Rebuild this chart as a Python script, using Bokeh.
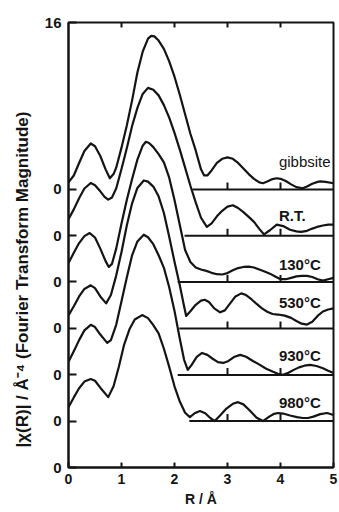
import math
from bokeh.plotting import figure
from bokeh.models import Range1d, LinearAxis, FixedTicker, Label, Title
from bokeh.embed import file_html
from bokeh.resources import INLINE

# ---------------- data ----------------
series_names = ["gibbsite", "R.T.", "130°C", "530°C", "930°C", "980°C"]
offsets = [10.0, 8.33, 6.67, 5.0, 3.33, 1.67]
baseline_start = [2.34, 2.19, 2.06, 2.09, 2.06, 2.28]
baseline_end = 5.0
baseline_ticks = [3, 4]
x_ticks = [0, 1, 2, 3, 4, 5]
y_tick_values = [0, 1.67, 3.33, 5.0, 6.67, 8.33, 10.0, 16]
y_tick_labels = ["0", "0", "0", "0", "0", "0", "0", "16"]
y_max = 16

r_gibbsite = [0, 0.1, 0.2, 0.3, 0.42, 0.5, 0.6, 0.7, 0.78, 0.85, 0.9, 1.0, 1.1, 1.2, 1.3,
              1.4, 1.5, 1.56, 1.62, 1.7, 1.8, 1.9, 2.0, 2.1, 2.2, 2.3, 2.4, 2.5, 2.56, 2.62,
              2.7, 2.8, 2.9, 3.0, 3.1, 3.2, 3.3, 3.4, 3.5, 3.6, 3.67, 3.75, 3.85, 3.93, 4.0,
              4.1, 4.2, 4.3, 4.42, 4.5, 4.6, 4.7, 4.75, 4.85, 5.0]
m_gibbsite = [0.25, 0.5, 0.95, 1.38, 1.65, 1.55, 1.2, 0.72, 0.4, 0.55, 0.78, 1.5, 2.3, 3.2, 4.2,
              4.95, 5.42, 5.52, 5.5, 5.35, 5.05, 4.6, 4.05, 3.4, 2.7, 2.0, 1.4, 0.72, 0.5, 0.5,
              0.68, 0.95, 1.1, 1.15, 1.1, 0.95, 0.75, 0.55, 0.38, 0.25, 0.22, 0.28, 0.37, 0.4, 0.38,
              0.3, 0.18, 0.08, 0.04, 0.1, 0.2, 0.27, 0.29, 0.27, 0.22]

r_rt = [0, 0.1, 0.2, 0.3, 0.42, 0.5, 0.6, 0.68, 0.75, 0.82, 0.9, 1.0, 1.1, 1.2, 1.3,
        1.4, 1.5, 1.6, 1.7, 1.8, 1.9, 2.0, 2.1, 2.2, 2.3, 2.4, 2.5, 2.61, 2.7, 2.8,
        2.9, 3.0, 3.1, 3.2, 3.3, 3.4, 3.5, 3.6, 3.69, 3.8, 3.93, 4.05, 4.18, 4.3, 4.39,
        4.5, 4.6, 4.69, 4.8, 4.9, 5.0]
m_rt = [0.6, 0.95, 1.35, 1.7, 1.9, 1.82, 1.6, 1.4, 1.3, 1.38, 1.7, 2.4, 3.15, 3.95, 4.6,
        5.1, 5.32, 5.25, 5.05, 4.7, 4.25, 3.7, 3.1, 2.45, 1.8, 1.2, 0.65, 0.32, 0.45, 0.7,
        0.9, 1.05, 1.1, 1.0, 0.85, 0.68, 0.5, 0.25, 0.05, 0.2, 0.4, 0.35, 0.22, 0.16, 0.14,
        0.18, 0.26, 0.32, 0.37, 0.4, 0.4]

r_130 = [0, 0.1, 0.2, 0.3, 0.4, 0.5, 0.6, 0.7, 0.76, 0.82, 0.9, 1.0, 1.1, 1.2, 1.3,
         1.4, 1.46, 1.52, 1.6, 1.7, 1.8, 1.9, 2.0, 2.1, 2.2, 2.3, 2.4, 2.5, 2.6, 2.7,
         2.8, 2.9, 3.0, 3.1, 3.2, 3.3, 3.4, 3.5, 3.6, 3.7, 3.8, 3.9, 4.0, 4.1, 4.2,
         4.3, 4.4, 4.5, 4.6, 4.7, 4.8, 4.9, 5.0]
m_130 = [0.68, 1.05, 1.4, 1.65, 1.76, 1.6, 1.2, 0.75, 0.54, 0.65, 1.2, 2.1, 2.95, 3.7, 4.4,
         4.9, 5.04, 5.0, 4.85, 4.6, 4.3, 3.75, 2.95, 2.05, 1.15, 0.72, 0.52, 0.45, 0.4, 0.33,
         0.28, 0.27, 0.32, 0.42, 0.5, 0.54, 0.55, 0.52, 0.45, 0.38, 0.3, 0.2, 0.1, 0.1, 0.15,
         0.2, 0.22, 0.22, 0.18, 0.1, 0.05, 0.1, 0.15]

r_530 = [0, 0.1, 0.2, 0.3, 0.42, 0.5, 0.6, 0.71, 0.8, 0.9, 1.0, 1.1, 1.2, 1.3, 1.42,
         1.5, 1.6, 1.7, 1.8, 1.9, 2.0, 2.1, 2.17, 2.22, 2.3, 2.4, 2.5, 2.57, 2.65, 2.75,
         2.86, 2.95, 3.05, 3.15, 3.26, 3.35, 3.45, 3.55, 3.65, 3.75, 3.85, 3.95, 4.08, 4.2, 4.3,
         4.4, 4.5, 4.6, 4.7, 4.8, 4.9, 5.0]
m_530 = [0.47, 0.8, 1.15, 1.42, 1.55, 1.45, 1.15, 0.9, 1.2, 1.9, 2.75, 3.7, 4.5, 5.05, 5.32,
         5.28, 5.1, 4.75, 4.15, 3.3, 2.4, 1.55, 0.9, 0.45, 0.62, 0.85, 1.0, 1.03, 0.95, 0.72,
         0.58, 0.65, 0.9, 1.15, 1.26, 1.2, 1.05, 0.88, 0.72, 0.6, 0.52, 0.5, 0.46, 0.38, 0.27,
         0.17, 0.14, 0.24, 0.45, 0.61, 0.68, 0.72]

r_930 = [0, 0.1, 0.2, 0.3, 0.42, 0.5, 0.6, 0.73, 0.8, 0.9, 1.0, 1.1, 1.2, 1.3, 1.42,
         1.5, 1.6, 1.7, 1.8, 1.9, 2.0, 2.1, 2.18, 2.25, 2.32, 2.42, 2.52, 2.62, 2.72, 2.82,
         2.92, 3.02, 3.12, 3.24, 3.35, 3.48, 3.61, 3.73, 3.86, 3.95, 4.05, 4.15, 4.25, 4.35, 4.45,
         4.56, 4.68, 4.8, 4.9, 5.0]
m_930 = [0.47, 0.85, 1.25, 1.6, 1.8, 1.72, 1.45, 1.15, 1.25, 1.8, 2.65, 3.5, 4.3, 4.8, 5.04,
         4.95, 4.7, 4.3, 3.85, 3.15, 2.3, 1.3, 0.55, 0.18, 0.35, 0.65, 0.79, 0.72, 0.58, 0.46,
         0.43, 0.5, 0.64, 0.72, 0.65, 0.5, 0.36, 0.22, 0.11, 0.04, 0.0, 0.08, 0.18, 0.27, 0.33,
         0.36, 0.32, 0.24, 0.15, 0.07]

r_980 = [0, 0.1, 0.2, 0.3, 0.42, 0.5, 0.6, 0.75, 0.85, 0.95, 1.05, 1.15, 1.25, 1.39, 1.5,
         1.6, 1.7, 1.8, 1.9, 2.0, 2.1, 2.2, 2.29, 2.38, 2.48, 2.58, 2.68, 2.76, 2.86, 2.98,
         3.1, 3.2, 3.3, 3.42, 3.55, 3.67, 3.78, 3.88, 3.95, 4.05, 4.18, 4.31, 4.42, 4.52, 4.62,
         4.75, 4.88, 5.0]
m_980 = [0.5, 0.85, 1.18, 1.42, 1.51, 1.45, 1.2, 0.86, 1.25, 1.95, 2.75, 3.3, 3.65, 3.81, 3.7,
         3.45, 3.15, 2.6, 1.95, 1.25, 0.7, 0.3, 0.14, 0.28, 0.36, 0.28, 0.1, 0.0, 0.2, 0.45,
         0.62, 0.68, 0.6, 0.38, 0.12, 0.0, 0.15, 0.26, 0.29, 0.27, 0.2, 0.14, 0.11, 0.11, 0.16,
         0.25, 0.29, 0.22]

series_r = [r_gibbsite, r_rt, r_130, r_530, r_930, r_980]
series_m = [m_gibbsite, m_rt, m_130, m_530, m_930, m_980]

# ---------------- style ----------------
INK = "#141414"
FONT = "Liberation Sans"
label_x = 3.97
label_dy = [1.0, 0.73, 0.63, 0.94, 0.70, 0.67]
label_style = ["normal", "bold", "bold", "bold", "bold", "bold"]

p = figure(width=339, height=512, output_backend="svg", toolbar_location=None,
           x_range=Range1d(0, 5), y_range=Range1d(0, y_max),
           min_border_left=68, min_border_right=6, min_border_top=22, min_border_bottom=45,
           x_axis_location=None, y_axis_location=None)
p.background_fill_color = "white"
p.border_fill_color = "white"
p.grid.visible = False
p.outline_line_color = INK
p.outline_line_width = 2

xb = LinearAxis(ticker=FixedTicker(ticks=x_ticks), axis_label="R / Å")
xb.major_tick_in = 5
xb.major_tick_out = 0
xb.minor_tick_line_color = None
xb.axis_line_width = 2
xb.axis_line_color = INK
xb.major_tick_line_width = 2
xb.major_tick_line_color = INK
xb.major_label_text_font = FONT
xb.major_label_text_font_size = "14px"
xb.major_label_text_font_style = "bold"
xb.major_label_text_color = INK
xb.major_label_standoff = 6
xb.axis_label_text_font = FONT
xb.axis_label_text_font_size = "14px"
xb.axis_label_text_font_style = "bold"
xb.axis_label_text_color = INK
xb.axis_label_standoff = 4
p.add_layout(xb, "below")

yl = LinearAxis(ticker=FixedTicker(ticks=y_tick_values))
yl.major_label_overrides = {v: t for v, t in zip(y_tick_values, y_tick_labels)}
yl.major_tick_in = 8
yl.major_tick_out = 0
yl.minor_tick_line_color = None
yl.axis_line_width = 2
yl.axis_line_color = INK
yl.major_tick_line_width = 2
yl.major_tick_line_color = INK
yl.major_label_text_font = FONT
yl.major_label_text_font_size = "15px"
yl.major_label_text_font_style = "bold"
yl.major_label_text_color = INK
yl.major_label_standoff = 7
p.add_layout(yl, "left")

# y-axis title (rotated, anchored near the bottom like the reference)
p.add_layout(Title(text="|χ(R)| / Å⁻⁴ (Fourier Transform Magnitude)", align="left",
                   offset=20, standoff=20, text_font=FONT, text_font_size="17px",
                   text_font_style="bold", text_color=INK), "left")

# inward ticks on the top frame edge
top_ticks = x_ticks[1:-1]
p.segment(x0=top_ticks, y0=[y_max] * len(top_ticks), x1=top_ticks,
          y1=[y_max - 0.18] * len(top_ticks), line_color=INK, line_width=2)

# curves
for r, m, off in zip(series_r, series_m, offsets):
    p.line(r, [off + v for v in m], line_color=INK, line_width=2.2, line_join="round")

# baselines
p.segment(x0=baseline_start, y0=offsets, x1=[baseline_end] * len(offsets), y1=offsets,
          line_color=INK, line_width=2)
tx, ty0, ty1 = [], [], []
for off in offsets:
    for t in baseline_ticks:
        tx.append(t)
        ty0.append(off)
        ty1.append(off + 0.25)
p.segment(x0=tx, y0=ty0, x1=tx, y1=ty1, line_color=INK, line_width=2)

# curve labels
for name, off, dy, st in zip(series_names, offsets, label_dy, label_style):
    p.add_layout(Label(x=label_x, y=off + dy, text=name, text_font=FONT,
                       text_font_size="15px", text_font_style=st, text_color=INK,
                       text_align="left", text_baseline="middle"))

open("out.html", "w").write(file_html(p, INLINE))
